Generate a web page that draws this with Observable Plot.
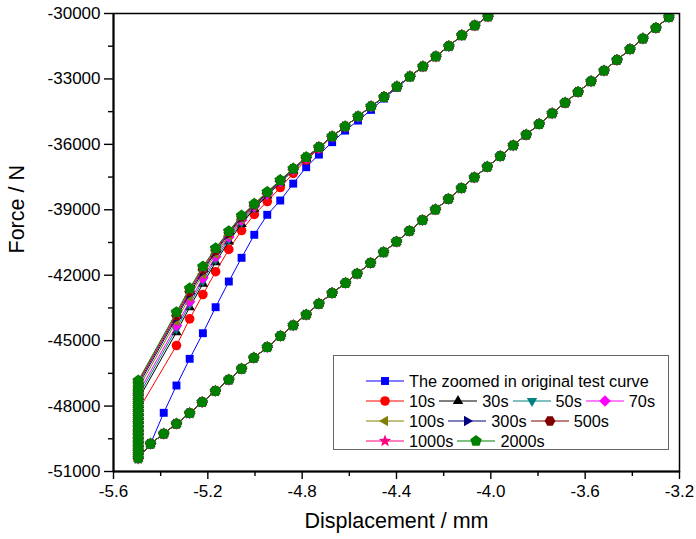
<!DOCTYPE html>
<html><head><meta charset="utf-8">
<script src="https://cdn.jsdelivr.net/npm/d3@7"></script>
<script src="https://cdn.jsdelivr.net/npm/@observablehq/plot@0.6"></script>
<style>
body{margin:0;background:#fff;}
#wrap{position:relative;width:696px;height:539px;font-family:"Liberation Sans",Arial,sans-serif;}
#legend{position:absolute;left:333px;top:355px;width:336px;height:95px;border:1px solid #666;background:#fff;box-sizing:border-box;}
.row{position:absolute;left:32px;height:20px;display:flex;align-items:center;font-size:16.3px;white-space:nowrap;color:#000;}
.item{display:flex;align-items:center;margin-right:4px;}
.item svg{margin-right:5px;display:block;}
</style></head><body><div id="wrap"></div>
<script>
// ---------- data ----------
const seriesNames = ["The zoomed in original test curve","10s","30s","50s","70s","100s","300s","500s","1000s","2000s"];
const seriesColors = ["#0000FF","#FF0000","#000000","#008080","#FF00FF","#808000","#000080","#800000","#FF0080","#008000"];
const seriesSymbols = ["square","circle","triangleUp","triangleDown","diamond","triangleLeft","triangleRight","hexagon","star","pentagon"];
const legendRows = [[0],[1,2,3,4],[5,6,7],[8,9]];

// loading branch (shared by all curves), from the tip upward
const lowerX = [-5.443,-5.387,-5.333,-5.277,-5.224,-5.168,-5.111,-5.057,-5.005,-4.948,-4.892,-4.838,-4.783,-4.729,-4.673,-4.616,-4.567,-4.510,-4.455,-4.400,-4.345,-4.290,-4.235,-4.180,-4.125,-4.070,-4.015,-3.960,-3.905,-3.850,-3.795,-3.740,-3.685,-3.630,-3.575,-3.520,-3.465,-3.410,-3.355,-3.300,-3.245,-3.190];
const lowerF = [-49730,-49270,-48810,-48330,-47820,-47310,-46790,-46290,-45790,-45300,-44790,-44300,-43810,-43310,-42820,-42360,-41930,-41440,-40950,-40460,-39970,-39480,-38990,-38500,-38010,-37520,-37030,-36540,-36050,-35560,-35070,-34580,-34090,-33600,-33110,-32620,-32130,-31640,-31150,-30660,-30170,-29680];

// holding (relaxation) at the peak displacement
const holdX = -5.495;
const holdF = [-50400,-50220,-50040,-49860,-49680,-49500,-49320,-49140,-48960,-48780,-48600,-48420,-48240,-48060,-47880,-47700,-47520,-47340,-47160,-46980,-46830];
const holdEnd = [null,-48200,-47700,-47550,-47400,-47200,-47050,-46950,-46880,-46830];

// unloading branch
const upperX = [-5.333,-5.277,-5.221,-5.167,-5.111,-5.057,-5.003,-4.948,-4.893,-4.838,-4.783,-4.729,-4.673,-4.618,-4.563,-4.508,-4.453,-4.398,-4.343,-4.288,-4.233,-4.178,-4.123,-4.068,-4.012,-3.957];
const origFirstX = -5.387, origFirstF = -48309;
const origUpperF = [-47057,-45833,-44659,-43467,-42289,-41202,-40147,-39230,-38575,-37800,-37048,-36470,-35900,-35370,-34910,-34420,-33900,-33400,-32910,-32440,-31975,-31500,-31000,-30550,-30138,-29700];
const upper10s   = [-45223,-44000,-42885,-41840,-40820,-39950,-39215,-38620,-37980,-37330,-36720,-36200];
const upper30s   = [-44613,-43467,-42395,-41400,-40450,-39650,-38950,-38350,-37760,-37200,-36650,-36150];
const upper50s   = [-44450,-43330,-42250,-41270,-40350,-39560,-38900,-38310,-37730,-37180,-36630,-36140];
const upper70s   = [-44306,-43205,-42120,-41150,-40250,-39480,-38850,-38280,-37700,-37160,-36620,-36140];
const upper100s  = [-44100,-43000,-41950,-41030,-40180,-39420,-38820,-38250,-37680,-37140,-36610,-36135];
const upper300s  = [-43950,-42850,-41830,-40920,-40100,-39360,-38790,-38230,-37670,-37130,-36600,-36132];
const upper500s  = [-43850,-42750,-41740,-40860,-40050,-39320,-38760,-38210,-37660,-37120,-36595,-36131];
const upper1000s = [-43760,-42670,-41660,-40800,-40010,-39290,-38740,-38190,-37650,-37115,-36592,-36130];
const upper2000s = [-43695,-42600,-41600,-40760,-39980,-39262,-38725,-38180,-37640,-37110,-36590,-36130];
const upperTail  = [-35640,-35180,-34720,-34260,-33830,-33350,-32890,-32430,-31970,-31500,-31000,-30550,-30138,-29700];

const xDomain = [-5.6, -3.2];
const yDomain = [-51000, -30000];
const xMajorTicks = [-5.6,-5.2,-4.8,-4.4,-4.0,-3.6,-3.2];
const xMinorTicks = [-5.4,-5.0,-4.6,-4.2,-3.8,-3.4];
const yMajorTicks = [-51000,-48000,-45000,-42000,-39000,-36000,-33000,-30000];
const yMinorTicks = [-49500,-46500,-43500,-40500,-37500,-34500,-31500];
const xLabel = "Displacement / mm";
const yLabel = "Force / N";

// ---------- symbols ----------
function poly(n, rot, scale = 1) {
  return {draw(ctx, size) {
    const R = Math.sqrt(size / Math.PI) * scale;
    for (let i = 0; i < n; i++) {
      const a = rot + i * 2 * Math.PI / n;
      const px = R * Math.sin(a), py = -R * Math.cos(a);
      if (i === 0) ctx.moveTo(px, py); else ctx.lineTo(px, py);
    }
    ctx.closePath();
  }};
}
const symbolDefs = {
  square: poly(4, Math.PI / 4),
  circle: {draw(ctx, size) { const R = Math.sqrt(size / Math.PI); ctx.moveTo(R, 0); ctx.arc(0, 0, R, 0, 2 * Math.PI); }},
  triangleUp: poly(3, 0),
  triangleDown: poly(3, Math.PI),
  triangleLeft: poly(3, -Math.PI / 2),
  triangleRight: poly(3, Math.PI / 2),
  diamond: poly(4, 0),
  hexagon: poly(6, Math.PI / 6),
  pentagon: poly(5, 0),
  star: {draw(ctx, size) {
    const R = Math.sqrt(size / Math.PI), r = R * 0.42;
    for (let i = 0; i < 10; i++) {
      const a = i * Math.PI / 5, rr = i % 2 ? r : R;
      const px = rr * Math.sin(a), py = -rr * Math.cos(a);
      if (i === 0) ctx.moveTo(px, py); else ctx.lineTo(px, py);
    }
    ctx.closePath();
  }}
};
const symbolR = {square: 5.6, circle: 4.8, triangleUp: 6, triangleDown: 6, triangleLeft: 6, triangleRight: 6, diamond: 5.8, hexagon: 5.4, pentagon: 6, star: 6.5};

// ---------- build rows ----------
const relaxHeads = [null, upper10s, upper30s, upper50s, upper70s, upper100s, upper300s, upper500s, upper1000s, upper2000s];
function buildRows(k) {
  const rows = [];
  for (let i = lowerX.length - 1; i >= 0; i--) rows.push({x: lowerX[i], y: lowerF[i]});
  if (k === 0) {
    rows.push({x: origFirstX, y: origFirstF});
    upperX.forEach((x, i) => rows.push({x, y: origUpperF[i]}));
  } else {
    holdF.filter(f => f < holdEnd[k]).forEach(f => rows.push({x: holdX, y: f}));
    rows.push({x: holdX, y: holdEnd[k]});
    const up = relaxHeads[k].concat(upperTail);
    upperX.forEach((x, i) => rows.push({x, y: up[i]}));
  }
  return rows;
}

const seriesMarks = [];
seriesNames.forEach((name, k) => {
  const rows = buildRows(k);
  const sym = seriesSymbols[k];
  seriesMarks.push(Plot.line(rows, {x: "x", y: "y", stroke: seriesColors[k], strokeWidth: 1, clip: true}));
  seriesMarks.push(Plot.dot(rows, {x: "x", y: "y", fill: seriesColors[k], r: symbolR[sym], symbol: symbolDefs[sym], clip: true}));
});

const chart = Plot.plot({
  width: 696, height: 539,
  marginLeft: 113, marginRight: 17, marginTop: 13, marginBottom: 68,
  x: {domain: xDomain},
  y: {domain: yDomain},
  style: {fontFamily: '"Liberation Sans", Arial, sans-serif', fontSize: "17px", color: "#000", background: "#fff", overflow: "visible"},
  marks: [
    ...seriesMarks,
    Plot.frame({stroke: "#000", strokeWidth: 1.5}),
    Plot.ruleX([xDomain[0]], {stroke: "#000", strokeWidth: 2}),
    Plot.ruleY([yDomain[0]], {stroke: "#000", strokeWidth: 2}),
    Plot.axisX({ticks: xMajorTicks, tickSize: 8, tickPadding: 5, tickFormat: d => d.toFixed(1), label: null, fontSize: 17, strokeWidth: 1.4}),
    Plot.axisX({ticks: xMinorTicks, tickSize: 5, tickFormat: () => "", label: null, strokeWidth: 1.4}),
    Plot.axisY({ticks: yMajorTicks, tickSize: 9, tickPadding: 4, tickFormat: d => String(d), label: null, fontSize: 17, strokeWidth: 1.4}),
    Plot.axisY({ticks: yMinorTicks, tickSize: 5, tickFormat: () => "", label: null, strokeWidth: 1.4}),
    Plot.text([xLabel], {frameAnchor: "bottom", dy: 50, fontSize: 21.5, text: d => d, lineAnchor: "middle"}),
    Plot.text([yLabel], {frameAnchor: "left", dx: -96, dy: 11, rotate: -90, fontSize: 21.5, text: d => d, lineAnchor: "middle"})
  ]
});
const wrap = document.getElementById("wrap");
wrap.appendChild(chart);

// ---------- legend ----------
const legend = document.createElement("div");
legend.id = "legend";
legendRows.forEach((items, ri) => {
  const row = document.createElement("div");
  row.className = "row";
  row.style.top = (15 + ri * 20) + "px";
  items.forEach(k => {
    const item = document.createElement("div");
    item.className = "item";
    const svg = d3.create("svg").attr("width", 38).attr("height", 20);
    svg.append("line").attr("x1", 0).attr("x2", 38).attr("y1", 10).attr("y2", 10).attr("stroke", seriesColors[k]).attr("stroke-width", 1);
    const sym = seriesSymbols[k];
    const R = symbolR[sym];
    svg.append("path").attr("transform", "translate(19,10)").attr("fill", seriesColors[k])
      .attr("d", d3.symbol(symbolDefs[sym], Math.PI * R * R)());
    item.appendChild(svg.node());
    const span = document.createElement("span");
    span.textContent = seriesNames[k];
    item.appendChild(span);
    row.appendChild(item);
  });
  legend.appendChild(row);
});
wrap.appendChild(legend);
</script></body></html>
